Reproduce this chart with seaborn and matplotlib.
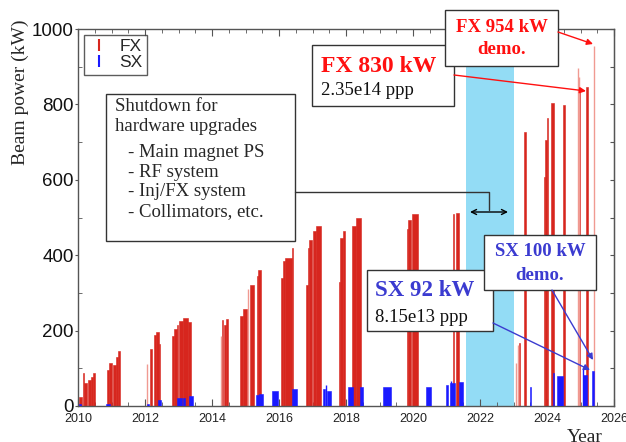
"""
Beam power history (FX / SX) recreated with seaborn + matplotlib.
"""

import numpy as np
import pandas as pd
import matplotlib
matplotlib.use('Agg')
import matplotlib.pyplot as plt
from matplotlib.lines import Line2D
from matplotlib.patches import Rectangle, FancyArrowPatch
import seaborn as sns


# FX delivery blocks: start year, end year, beam power (kW)
fx_start = [2010.02, 2010.14, 2010.19, 2010.30, 2010.38, 2010.45,
            2010.87, 2010.93, 2011.05, 2011.12, 2011.20,
            2012.16, 2012.26, 2012.33, 2012.42,
            2012.81, 2012.88, 2012.97, 2013.02, 2013.12, 2013.28,
            2014.30, 2014.36, 2014.43,
            2014.84, 2014.92, 2015.14, 2015.33, 2015.38,
            2016.07, 2016.12, 2016.17, 2016.38,
            2016.82, 2016.86, 2016.91, 2017.00, 2017.10,
            2017.78, 2017.81, 2017.90, 2018.18, 2018.30,
            2019.81, 2019.85, 2019.98,
            2021.20, 2021.29,
            2023.16, 2023.31,
            2023.91, 2023.95, 2023.99, 2024.12, 2024.47,
            2024.92, 2025.16]
fx_end = [2010.12, 2010.17, 2010.28, 2010.38, 2010.45, 2010.52,
          2010.93, 2011.02, 2011.12, 2011.20, 2011.26,
          2012.22, 2012.33, 2012.42, 2012.46,
          2012.88, 2012.97, 2013.00, 2013.12, 2013.28, 2013.38,
          2014.33, 2014.43, 2014.49,
          2014.92, 2015.05, 2015.26, 2015.38, 2015.45,
          2016.12, 2016.17, 2016.38, 2016.43,
          2016.86, 2016.91, 2017.00, 2017.10, 2017.24,
          2017.81, 2017.90, 2017.98, 2018.30, 2018.45,
          2019.85, 2019.93, 2020.14,
          2021.23, 2021.36,
          2023.19, 2023.36,
          2023.95, 2023.99, 2024.03, 2024.21, 2024.53,
          2024.98, 2025.22]
fx_kw = [25, 88, 62, 68, 78, 88,
         95, 115, 110, 130, 145,
         150, 188, 195, 165,
         185, 205, 215, 225, 233, 222,
         228, 215, 232,
         240, 258, 320, 345, 360,
         340, 385, 392, 420,
         320, 420, 440, 465, 478,
         330, 445, 465, 478, 500,
         470, 493, 510,
         510, 512,
         167, 727,
         607, 705, 764, 804, 798,
         833, 845]

# thin FX spikes (year, kW)
fx_spike_year = [2012.07, 2014.26, 2015.08, 2023.07, 2023.12, 2024.94, 2024.96, 2025.41]
fx_spike_kw = [112, 185, 310, 114, 162, 897, 872, 954]

# SX delivery blocks
sx_start = [2010.02, 2010.85, 2012.05, 2012.40, 2012.97, 2013.12, 2013.30,
            2015.30, 2015.40, 2015.80, 2016.40, 2017.30, 2017.42,
            2018.07, 2018.42, 2019.10, 2020.40, 2020.98, 2021.10, 2021.37,
            2023.48, 2024.17, 2024.30, 2025.07, 2025.35]
sx_end = [2010.08, 2010.95, 2012.12, 2012.48, 2013.10, 2013.20, 2013.42,
          2015.40, 2015.53, 2015.98, 2016.55, 2017.37, 2017.55,
          2018.22, 2018.52, 2019.33, 2020.53, 2021.03, 2021.25, 2021.50,
          2023.52, 2024.20, 2024.47, 2025.20, 2025.40]
sx_kw = [5, 4, 5, 15, 20, 22, 26,
         28, 33, 39, 45, 45, 40,
         50, 50, 50, 50, 55, 60, 63,
         51, 87, 80, 82, 92]
sx_spike_year = [2017.40, 2021.13, 2025.08]
sx_spike_kw = [55, 66, 97]

shutdown_years = [2021.57, 2023.0]

year_ticks = [2010, 2012, 2014, 2016, 2018, 2020, 2022, 2024, 2026]
power_ticks = [0, 200, 400, 600, 800, 1000]

COLORS = {
    'fx': '#d7261e',
    'fx_light': '#f09a92',
    'sx': '#1a1aff',
    'fx_text': '#ff1010',
    'sx_text': '#3b3bd0',
    'span': '#93dcf5',
    'frame': '#555555',
}

SANS = 'Liberation Sans'
SERIF = 'Liberation Serif'

W, H = 626, 442


def fpos(x, y):
    """Pixel position (from top-left) -> figure fraction."""
    return x / W, 1 - y / H


def box(fig, x0, y0, x1, y1):
    fig.patches.append(Rectangle(fpos(x0, y1), (x1 - x0) / W, (y1 - y0) / H,
                                 transform=fig.transFigure, facecolor='white',
                                 edgecolor='#333333', linewidth=1.0, zorder=5))


def arrow(fig, p0, p1, color, style='-|>'):
    fig.patches.append(FancyArrowPatch(fpos(*p0), fpos(*p1), transform=fig.transFigure,
                                       arrowstyle=style, mutation_scale=9,
                                       color=color, linewidth=1.0, zorder=6,
                                       shrinkA=0, shrinkB=0))


sns.set_style("ticks")
plt.rcParams['font.family'] = [SANS, 'DejaVu Sans']

fig = plt.figure(figsize=(W / 100, H / 100), dpi=100)
ax = fig.add_axes([78 / W, 1 - 406 / H, (614 - 78) / W, (406 - 29) / H])

fx = pd.DataFrame({'start': fx_start, 'end': fx_end, 'kw': fx_kw})
sx = pd.DataFrame({'start': sx_start, 'end': sx_end, 'kw': sx_kw})

ax.axvspan(shutdown_years[0], shutdown_years[1], color=COLORS['span'], lw=0, zorder=0)

ax.bar(fx['start'], fx['kw'], width=fx['end'] - fx['start'], align='edge',
       color=COLORS['fx'], edgecolor=COLORS['fx'], linewidth=0.4, zorder=2)
ax.vlines(fx_spike_year, 0, fx_spike_kw, color=COLORS['fx_light'], lw=1.0, zorder=2)
ax.bar(sx['start'], sx['kw'], width=sx['end'] - sx['start'], align='edge',
       color=COLORS['sx'], edgecolor=COLORS['sx'], linewidth=0.4, zorder=3)
ax.vlines(sx_spike_year, 0, sx_spike_kw, color=COLORS['sx'], lw=1.0, zorder=3)

ax.set_xlim(2010, 2026)
ax.set_ylim(0, 1000)
ax.set_xticks(year_ticks)
ax.set_xticks(np.arange(2010, 2026.01, 0.5), minor=True)
ax.set_yticks(power_ticks)
ax.set_yticks(np.arange(0, 1001, 100), minor=True)
ax.tick_params(axis='x', which='both', direction='in', top=True, colors=COLORS['frame'],
               labelcolor='#222222', labelsize=9, pad=5)
ax.tick_params(axis='x', which='major', length=5)
ax.tick_params(axis='x', which='minor', length=3)
ax.tick_params(axis='y', which='major', direction='out', length=2.5, pad=0.5,
               colors=COLORS['frame'], labelcolor='#111111', labelsize=13.5)
ax.tick_params(axis='y', which='minor', direction='in', length=3, colors=COLORS['frame'])
for side in ax.spines.values():
    side.set_color(COLORS['frame'])
    side.set_linewidth(1.0)

right = ax.secondary_yaxis('right')
right.set_yticks(np.arange(0, 1001, 100))
right.tick_params(direction='in', length=3, labelright=False, colors=COLORS['frame'])

legend_handles = [
    Line2D([], [], color=COLORS['fx'], marker='|', ls='none', markersize=8, mew=1.5),
    Line2D([], [], color=COLORS['sx'], marker='|', ls='none', markersize=8, mew=1.5),
]
leg = ax.legend(legend_handles, ['FX', 'SX'], loc='upper left', bbox_to_anchor=(0.011, 0.985),
                fontsize=12.5, frameon=True, fancybox=False, borderpad=0.25,
                handlelength=1.2, handletextpad=0.6, labelspacing=0.05, borderaxespad=0)
leg.get_frame().set_edgecolor('#333333')
leg.get_frame().set_linewidth(1.0)

fig.text(*fpos(20, 92), 'Beam power (kW)', rotation=90, ha='center', va='center',
         family=SERIF, fontsize=14)
fig.text(*fpos(585, 429), 'Year', ha='center', va='top', family=SERIF, fontsize=14)

# shutdown note
box(fig, 106, 94, 295, 241)
fig.text(*fpos(115, 98), 'Shutdown for\nhardware upgrades', ha='left', va='top',
         family=SERIF, fontsize=13.5, linespacing=1.2, zorder=7)
fig.text(*fpos(128, 144), '- Main magnet PS\n- RF system\n- Inj/FX system\n- Collimators, etc.',
         ha='left', va='top', family=SERIF, fontsize=13.5, linespacing=1.2, zorder=7)
fig.lines.append(Line2D([295 / W, 489 / W, 489 / W],
                        [1 - 192 / H, 1 - 192 / H, 1 - 210 / H],
                        transform=fig.transFigure, color='#333333', lw=1.0, zorder=6))
arrow(fig, (470, 212), (508, 212), 'black', style='<->')

# FX record
box(fig, 312, 45, 454, 106)
fig.text(*fpos(321, 66), 'FX 830 kW', ha='left', va='center', family=SERIF,
         fontsize=17, fontweight='bold', color=COLORS['fx_text'], zorder=7)
fig.text(*fpos(321, 91), '2.35e14 ppp', ha='left', va='center', family=SERIF,
         fontsize=13.5, color='#111111', zorder=7)
arrow(fig, (454, 75), (586, 91), COLORS['fx_text'])

box(fig, 445, 10, 558, 66)
fig.text(*fpos(501.5, 27), 'FX 954 kW', ha='center', va='center', family=SERIF,
         fontsize=13.5, fontweight='bold', color=COLORS['fx_text'], zorder=7)
fig.text(*fpos(501.5, 50), 'demo.', ha='center', va='center', family=SERIF,
         fontsize=13.5, fontweight='bold', color=COLORS['fx_text'], zorder=7)
arrow(fig, (558, 32), (593, 44), COLORS['fx_text'])

# SX record
box(fig, 367, 270, 493, 331)
fig.text(*fpos(375, 290), 'SX 92 kW', ha='left', va='center', family=SERIF,
         fontsize=16.5, fontweight='bold', color=COLORS['sx_text'], zorder=7)
fig.text(*fpos(375, 318), '8.15e13 ppp', ha='left', va='center', family=SERIF,
         fontsize=13.5, color='#111111', zorder=7)
arrow(fig, (493, 323), (590, 370), COLORS['sx_text'])

box(fig, 484, 235, 596, 290)
fig.text(*fpos(540, 252), 'SX 100 kW', ha='center', va='center', family=SERIF,
         fontsize=13.5, fontweight='bold', color=COLORS['sx_text'], zorder=7)
fig.text(*fpos(540, 275), 'demo.', ha='center', va='center', family=SERIF,
         fontsize=13.5, fontweight='bold', color=COLORS['sx_text'], zorder=7)
arrow(fig, (552, 290), (593, 360), COLORS['sx_text'])

fig.savefig('out.png', dpi=100)
